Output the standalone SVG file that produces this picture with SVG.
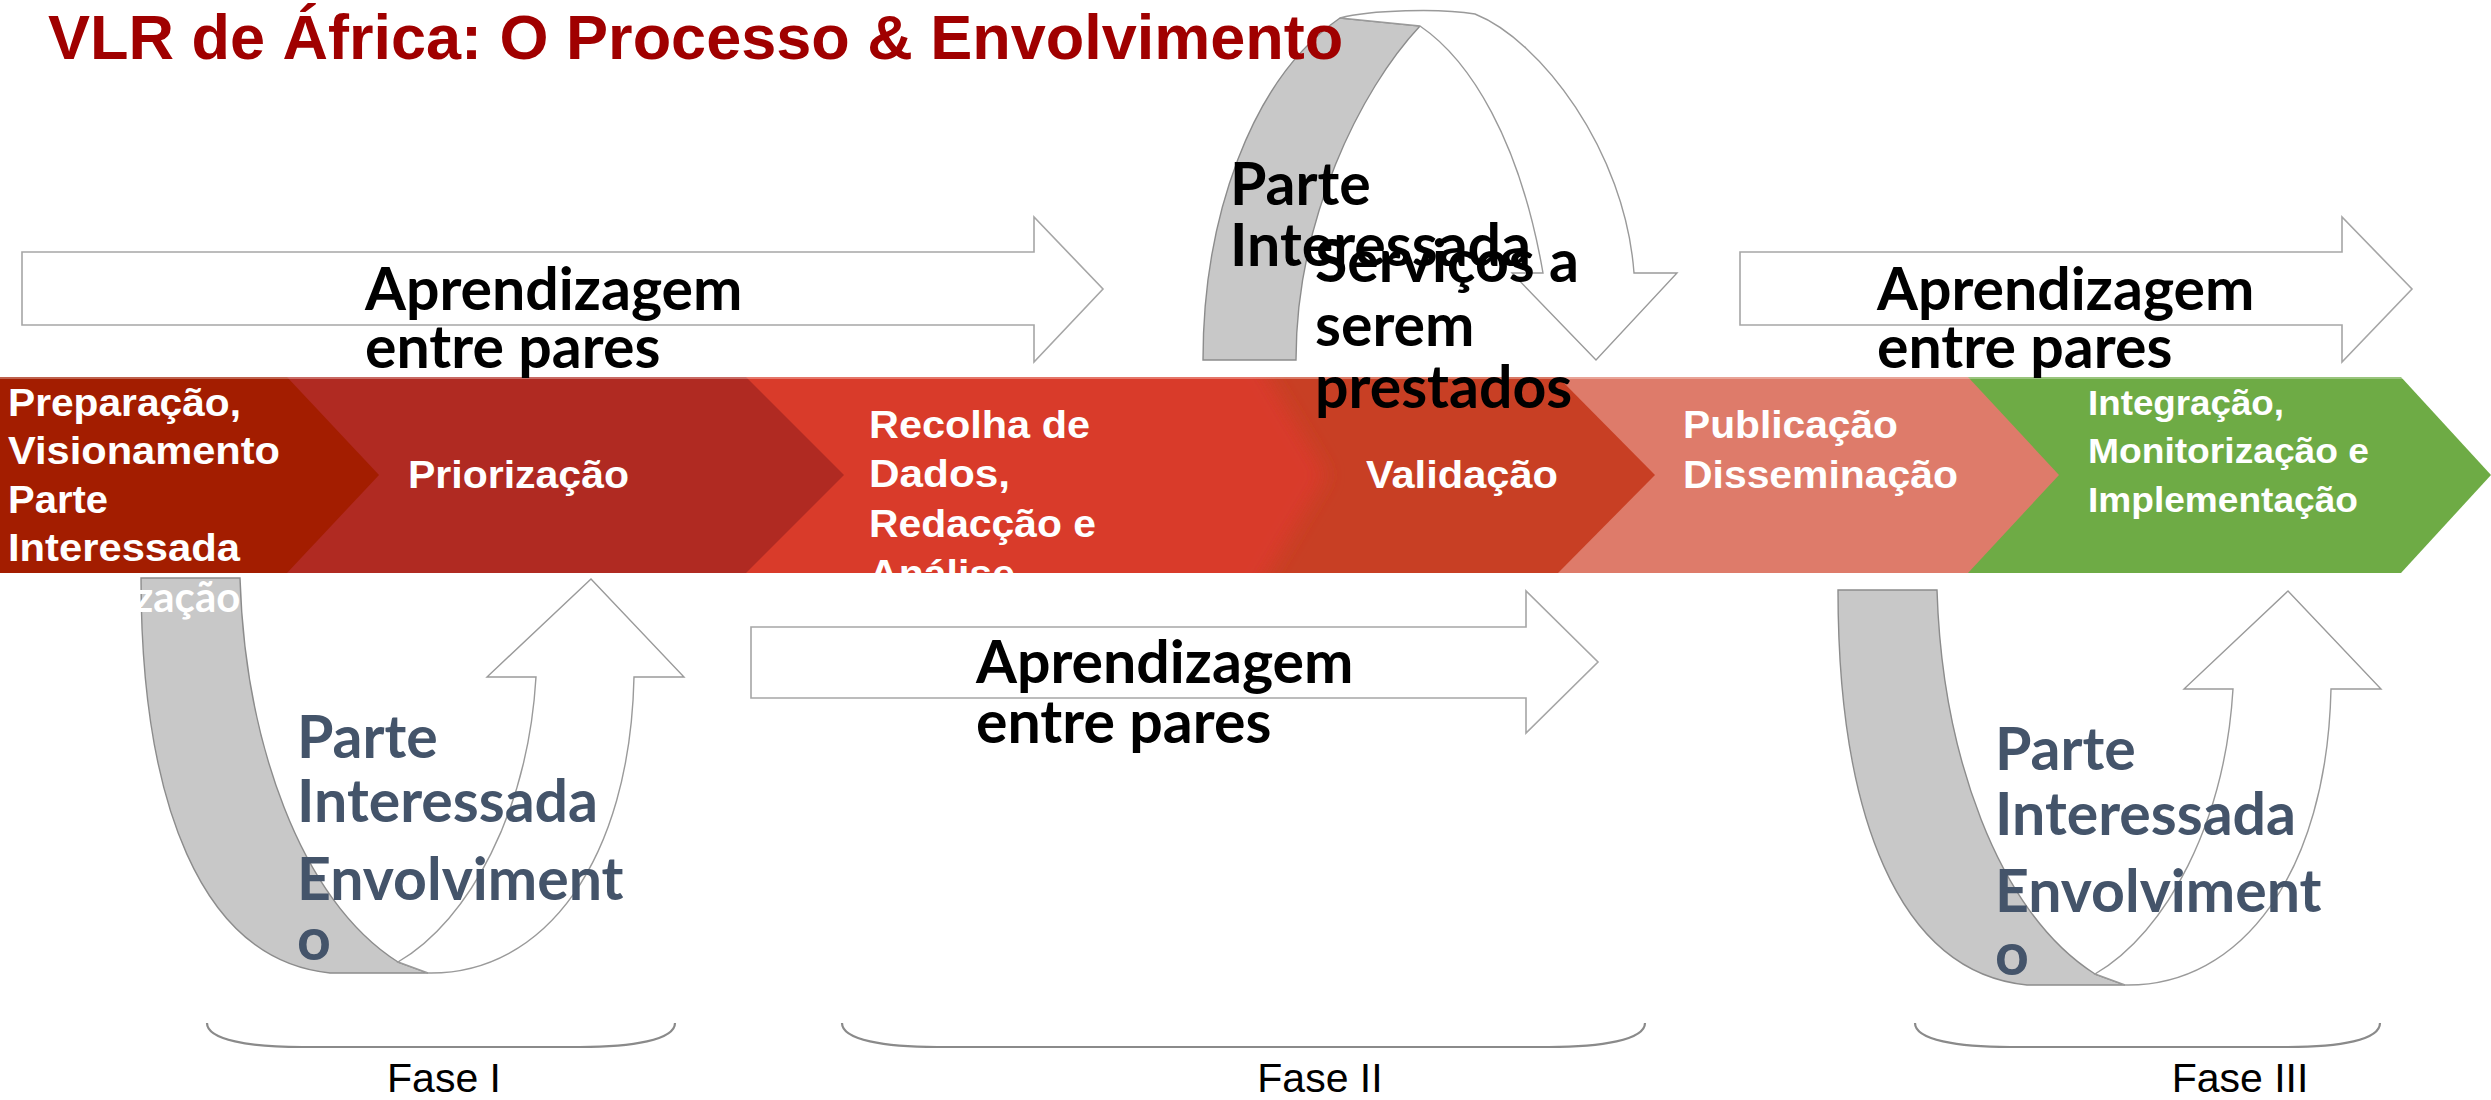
<svg xmlns="http://www.w3.org/2000/svg" width="2491" height="1100" viewBox="0 0 2491 1100">
<defs>
  <clipPath id="bandClip"><rect x="0" y="377" width="2491" height="196"/></clipPath>
  <filter id="soft" x="-5%" y="-20%" width="110%" height="140%"><feGaussianBlur stdDeviation="9"/></filter>
  <path id="uGrey" d="M141,578 L240,578 C245,740 300,900 398,962 L428,973 L330,973 C200,960 141,800 141,578 Z"/>
  <path id="uWhite" d="M398,962 L428,973 C545,975 630,860 634,677 L684,677 L591,579 L487,677 L536,677 C528,810 470,920 398,962 Z"/>
</defs>
<style>
  .title { font-family: "Liberation Sans", Arial, sans-serif; font-weight: bold; font-size: 63px; fill: #A00000; }
  .seg { font-family: "Liberation Sans", Arial, sans-serif; font-weight: bold; font-size: 38px; fill: #FFFFFF; }
  .seg2 { font-family: "Liberation Sans", Arial, sans-serif; font-weight: bold; font-size: 35px; fill: #FFFFFF; }
  .cal { font-family: Lato, "Open Sans", sans-serif; font-weight: bold; font-size: 59px; fill: #000000; }
  .slate { font-family: Lato, "Open Sans", sans-serif; font-weight: bold; font-size: 59px; fill: #44546A; }
  .arrow { fill: #FFFFFF; stroke: #A6A6A6; stroke-width: 1.6; }
  .ribbon { fill: #C8C8C8; stroke: #8C8C8C; stroke-width: 1.4; }
  .ribbonW { fill: #FFFFFF; stroke: #9A9A9A; stroke-width: 1.4; }
  .brace { fill: none; stroke: #8A8A8A; stroke-width: 2.2; }
  .fase { font-family: "Liberation Sans", Arial, sans-serif; font-size: 41px; fill: #000000; text-anchor: middle; }
</style>
<rect width="2491" height="1100" fill="#FFFFFF"/>

<!-- process band -->
<g id="band">
  <g id="seg-integracao">
    <path d="M1900,377 L2401,377 L2491,475 L2401,573 L1900,573 Z" fill="#6EAB45"/>
  </g>
  <g id="seg-publicacao">
    <path d="M1500,377 L1968,377 L2059,475 L1968,573 L1500,573 Z" fill="#DE7B6A"/>
  </g>
  <g id="seg-validacao">
    <path d="M700,377 L1558,377 L1655,475 L1558,573 L700,573 Z" fill="#C83F24"/>
  </g>
  <g id="seg-recolha" clip-path="url(#bandClip)">
    <path d="M700,330 L1240,330 L1326,475 L1240,620 L700,620 Z" fill="#D93A2A" filter="url(#soft)"/>
  </g>
  <g id="seg-priorizacao">
    <path d="M200,377 L746,377 L844,475 L746,573 L200,573 Z" fill="#B02A22"/>
  </g>
  <g id="seg-preparacao">
    <path d="M0,377 L287,377 L379,475 L287,573 L0,573 Z" fill="#A31D00"/>
  </g>
  <line x1="0" y1="378" x2="2420" y2="378" stroke="#FFFFFF" stroke-opacity="0.3" stroke-width="2"/>
  <g id="band-labels">
    <text class="seg" x="8" y="416" textLength="233" lengthAdjust="spacingAndGlyphs">Preparação,</text>
    <text class="seg" x="8" y="464" textLength="272" lengthAdjust="spacingAndGlyphs">Visionamento</text>
    <text class="seg" x="8" y="513" textLength="100" lengthAdjust="spacingAndGlyphs">Parte</text>
    <text class="seg" x="8" y="561" textLength="232" lengthAdjust="spacingAndGlyphs">Interessada</text>
    <text class="seg" x="408" y="488" textLength="221" lengthAdjust="spacingAndGlyphs">Priorização</text>
    <g clip-path="url(#bandClip)">
      <text class="seg" x="869" y="438" textLength="221" lengthAdjust="spacingAndGlyphs">Recolha de</text>
      <text class="seg" x="869" y="487" textLength="141" lengthAdjust="spacingAndGlyphs">Dados,</text>
      <text class="seg" x="869" y="537" textLength="227" lengthAdjust="spacingAndGlyphs">Redacção e</text>
      <text class="seg" x="869" y="587" textLength="146" lengthAdjust="spacingAndGlyphs">Análise</text>
    </g>
    <text class="seg" x="1366" y="488" textLength="192" lengthAdjust="spacingAndGlyphs">Validação</text>
    <text class="seg" x="1683" y="438" textLength="215" lengthAdjust="spacingAndGlyphs">Publicação</text>
    <text class="seg" x="1683" y="488" textLength="275" lengthAdjust="spacingAndGlyphs">Disseminação</text>
    <text class="seg2" x="2088" y="415" textLength="196" lengthAdjust="spacingAndGlyphs">Integração,</text>
    <text class="seg2" x="2088" y="463" textLength="281" lengthAdjust="spacingAndGlyphs">Monitorização e</text>
    <text class="seg2" x="2088" y="512" textLength="270" lengthAdjust="spacingAndGlyphs">Implementação</text>
  </g>
</g>

<!-- connectors: peer learning arrows and engagement loops -->
<g id="connectors">
  <path id="arrow-top-left" class="arrow" d="M22,252 L1034,252 L1034,217 L1103,289 L1034,362 L1034,325 L22,325 Z"/>
  <path id="arrow-top-right" class="arrow" d="M1740,252 L2342,252 L2342,217 L2412,289 L2342,362 L2342,325 L1740,325 Z"/>
  <path id="arrow-middle" class="arrow" d="M751,627 L1526,627 L1526,591 L1598,662 L1526,733 L1526,698 L751,698 Z"/>
  <g id="loop-top">
    <path class="ribbon" d="M1203,360 C1203,220 1250,80 1340,18 L1420,26 C1360,90 1296,220 1296,360 Z"/>
    <path class="ribbonW" d="M1340,18 C1370,10 1440,8 1475,14 C1540,40 1625,150 1634,273 L1677,273 L1596,360 L1512,273 L1543,273 C1520,140 1470,60 1420,26 Z"/>
  </g>
  <g id="loop-left">
    <use href="#uGrey" class="ribbon"/>
    <use href="#uWhite" class="ribbonW"/>
  </g>
  <g id="loop-right" transform="translate(1697,12)">
    <use href="#uGrey" class="ribbon"/>
    <use href="#uWhite" class="ribbonW"/>
  </g>
</g>

<g id="label-overflow"><text x="134" y="612" font-family="Lato, 'Open Sans', sans-serif" font-weight="bold" font-size="42" fill="#FFFFFF">zação</text></g>

<g id="peer-top-left">
  <text class="cal" x="365" y="310">Aprendizagem</text>
  <text class="cal" x="365" y="368">entre pares</text>
</g>
<g id="peer-top-right">
  <text class="cal" x="1877" y="310">Aprendizagem</text>
  <text class="cal" x="1877" y="368">entre pares</text>
</g>
<g id="peer-middle">
  <text class="cal" x="976" y="683">Aprendizagem</text>
  <text class="cal" x="976" y="743">entre pares</text>
</g>

<g id="stakeholder-top">
  <text class="cal" x="1230" y="205">Parte</text>
  <text class="cal" x="1230" y="266">Interessada</text>
  <text class="cal" x="1315" y="282">Serviços a</text>
  <text class="cal" x="1315" y="346">serem</text>
  <text class="cal" x="1315" y="408">prestados</text>
</g>

<g id="stakeholder-left">
  <text class="slate" x="297" y="758">Parte</text>
  <text class="slate" x="297" y="822">Interessada</text>
  <text class="slate" x="297" y="900">Envolviment</text>
  <text class="slate" x="297" y="960">o</text>
</g>
<g id="stakeholder-right">
  <text class="slate" x="1995" y="770">Parte</text>
  <text class="slate" x="1995" y="835">Interessada</text>
  <text class="slate" x="1995" y="912">Envolviment</text>
  <text class="slate" x="1995" y="975">o</text>
</g>

<g id="phase-1">
  <path class="brace" d="M207,1023 C207,1040 250,1047 302,1047 L580,1047 C632,1047 675,1040 675,1023"/>
  <text class="fase" x="444" y="1092">Fase I</text>
</g>
<g id="phase-2">
  <path class="brace" d="M842,1023 C842,1040 885,1047 937,1047 L1549,1047 C1601,1047 1645,1040 1645,1023"/>
  <text class="fase" x="1320" y="1092">Fase II</text>
</g>
<g id="phase-3">
  <path class="brace" d="M1915,1023 C1915,1040 1958,1047 2010,1047 L2288,1047 C2340,1047 2380,1040 2380,1023"/>
  <text class="fase" x="2240" y="1092">Fase III</text>
</g>

<g id="title"><text class="title" x="48" y="59">VLR de África: O Processo &amp; Envolvimento</text></g>
</svg>
